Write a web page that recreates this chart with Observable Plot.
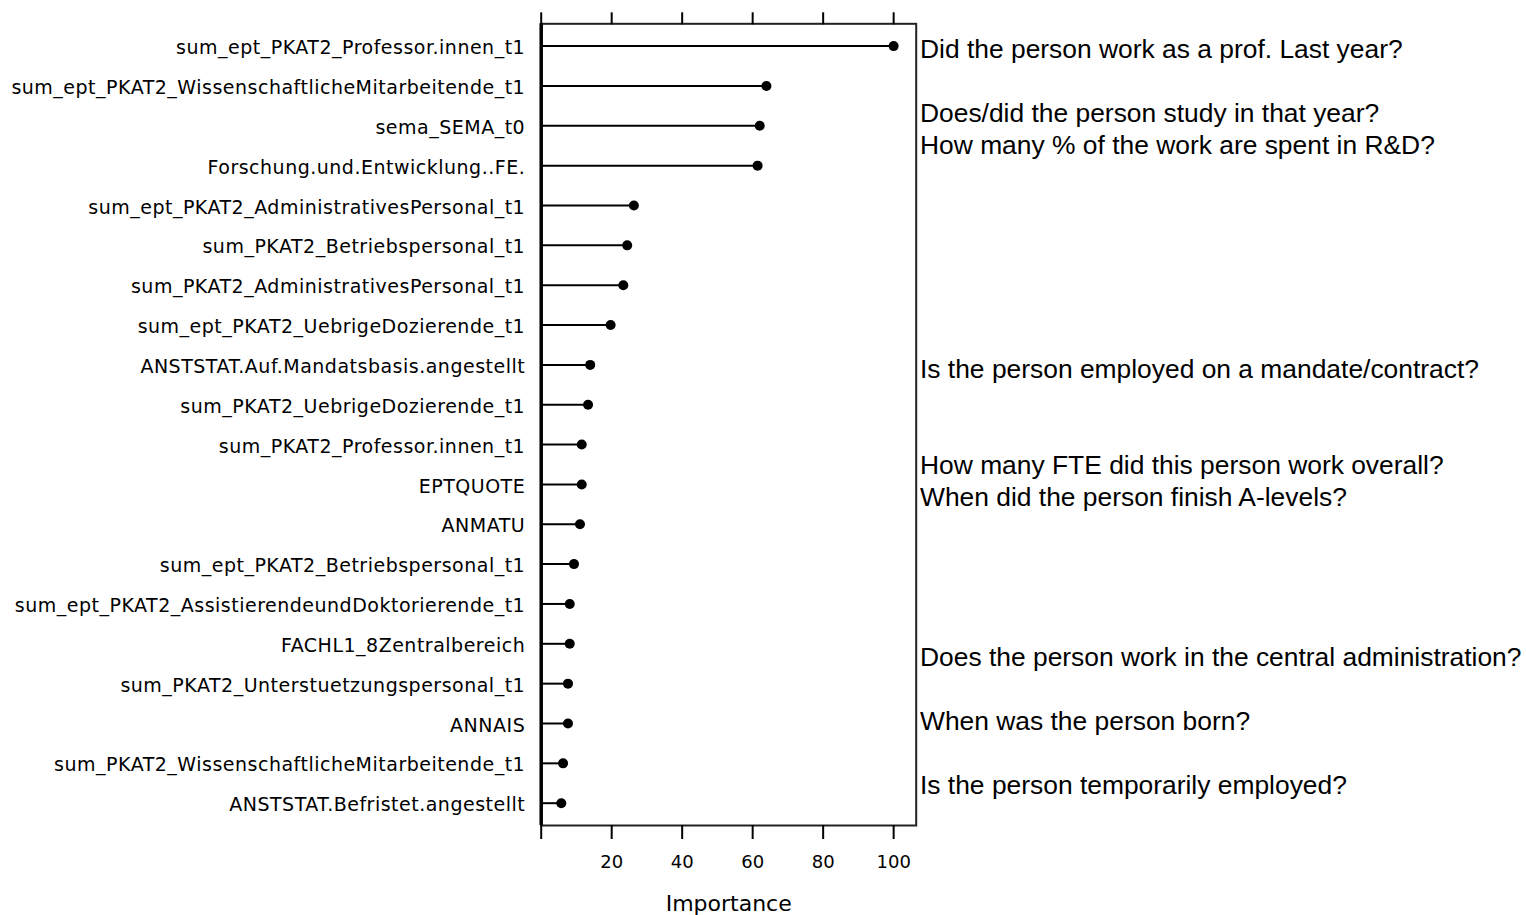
<!DOCTYPE html>
<html><head><meta charset="utf-8">
<script src="https://cdn.jsdelivr.net/npm/d3@7"></script>
<script src="https://cdn.jsdelivr.net/npm/@observablehq/plot@0.6"></script>
<style>
body{margin:0;background:#fff;}
#wrap{position:relative;width:1526px;height:915px;overflow:hidden;background:#fff;}
#chart{position:absolute;left:0;top:0;}
#notes{position:absolute;left:920px;top:33px;font-family:"Liberation Sans",Arial,sans-serif;font-size:26.4px;line-height:32px;white-space:pre;color:#000;}
#chart g[aria-label="y-axis tick label"] text{letter-spacing:0.5px;}
</style></head><body><div id="wrap"><div id="chart"></div><div id="notes"></div></div>
<script>
const names = [
  "sum_ept_PKAT2_Professor.innen_t1",
  "sum_ept_PKAT2_WissenschaftlicheMitarbeitende_t1",
  "sema_SEMA_t0",
  "Forschung.und.Entwicklung..FE.",
  "sum_ept_PKAT2_AdministrativesPersonal_t1",
  "sum_PKAT2_Betriebspersonal_t1",
  "sum_PKAT2_AdministrativesPersonal_t1",
  "sum_ept_PKAT2_UebrigeDozierende_t1",
  "ANSTSTAT.Auf.Mandatsbasis.angestellt",
  "sum_PKAT2_UebrigeDozierende_t1",
  "sum_PKAT2_Professor.innen_t1",
  "EPTQUOTE",
  "ANMATU",
  "sum_ept_PKAT2_Betriebspersonal_t1",
  "sum_ept_PKAT2_AssistierendeundDoktorierende_t1",
  "FACHL1_8Zentralbereich",
  "sum_PKAT2_Unterstuetzungspersonal_t1",
  "ANNAIS",
  "sum_PKAT2_WissenschaftlicheMitarbeitende_t1",
  "ANSTSTAT.Befristet.angestellt"
];
const importance = [100, 63.9, 62.0, 61.4, 26.3, 24.4, 23.3, 19.7, 13.9, 13.3, 11.5, 11.5, 11.0, 9.3, 8.1, 8.1, 7.6, 7.6, 6.2, 5.7];
const xTicks = [0, 20, 40, 60, 80, 100];
const xLabel = "Importance";
const notes = [
  "Did the person work as a prof. Last year?",
  "",
  "Does/did the person study in that year?",
  "How many % of the work are spent in R&D?",
  "", "", "", "", "", "",
  "Is the person employed on a mandate/contract?",
  "", "",
  "How many FTE did this person work overall?",
  "When did the person finish A-levels?",
  "", "", "", "",
  "Does the person work in the central administration?",
  "",
  "When was the person born?",
  "",
  "Is the person temporarily employed?"
];

const data = names.map((name, i) => ({name, value: importance[i]}));

const chart = Plot.plot({
  width: 920,
  height: 915,
  marginLeft: 540.7,
  marginRight: 4.3,
  marginTop: 23.3,
  marginBottom: 90,
  style: {fontFamily: "DejaVu Sans", fontSize: "19px", color: "#000", background: "#fff"},
  x: {domain: [0, 106.4]},
  y: {type: "point", domain: names, padding: 0.56, round: false},
  marks: [
    Plot.ruleY(data, {y: "name", x1: 0, x2: "value", stroke: "#000", strokeWidth: 2}),
    Plot.dot(data, {x: "value", y: "name", r: 5, fill: "#000", stroke: "none"}),
    Plot.frame({stroke: "#222", strokeWidth: 2}),
    Plot.ruleX([0], {stroke: "#000", strokeWidth: 3.5}),
    Plot.axisX({ticks: xTicks, anchor: "top", tickSize: 12, tickFormat: () => "", strokeWidth: 2, label: null}),
    Plot.axisX({ticks: xTicks, anchor: "bottom", tickSize: 14, tickPadding: 16, tickFormat: d => d === 0 ? "" : String(d), strokeWidth: 2, label: null, fontSize: 18}),
    Plot.axisY({tickSize: 0, tickPadding: 16, label: null, fontSize: 19, dy: 2}),
    Plot.text([xLabel], {frameAnchor: "bottom", dy: 85, fontSize: 22, fill: "#000"})
  ]
});
document.getElementById("chart").appendChild(chart);
document.getElementById("notes").textContent = notes.join("\n");
</script>
</body></html>
